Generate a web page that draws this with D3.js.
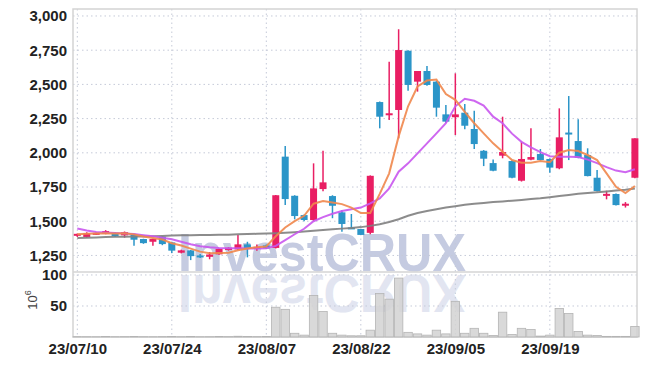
<!DOCTYPE html>
<html>
<head>
<meta charset="utf-8">
<script src="https://cdn.jsdelivr.net/npm/d3@7"></script>
<style>
  body { margin: 0; background: #fff; }
  text { font-family: "Liberation Sans Narrow", "Liberation Sans", sans-serif; }
</style>
</head>
<body>
<div id="chart"></div>
<script>
var dates = ["23/07/10","23/07/11","23/07/12","23/07/13","23/07/14","23/07/17","23/07/18","23/07/19","23/07/20","23/07/21",
  "23/07/24","23/07/25","23/07/26","23/07/27","23/07/28","23/07/31","23/08/01","23/08/02","23/08/03","23/08/04",
  "23/08/07","23/08/08","23/08/09","23/08/10","23/08/11","23/08/14","23/08/16","23/08/17","23/08/18","23/08/21",
  "23/08/22","23/08/23","23/08/24","23/08/25","23/08/28","23/08/29","23/08/30","23/08/31","23/09/01","23/09/04",
  "23/09/05","23/09/06","23/09/07","23/09/08","23/09/11","23/09/12","23/09/13","23/09/14","23/09/15","23/09/18",
  "23/09/19","23/09/20","23/09/21","23/09/22","23/09/25","23/09/26","23/09/27","23/10/04","23/10/05","23/10/06"];

var opens = [1395,1385,1405,1410,1415,1397,1402,1370,1350,1387,
  1345,1270,1287,1250,1240,1258,1290,1294,1331,1299,
  1323,1305,1972,1686,1545,1509,1735,1684,1565,1455,
  1443,1415,2371,2279,2313,2746,2520,2598,2520,2281,
  2260,2293,2174,2015,1925,1979,1940,1796,1950,1991,
  1955,1887,2148,2086,1984,1818,1690,1699,1621,1818];
var highs = [1410,1420,1418,1435,1420,1425,1405,1372,1372,1390,
  1350,1292,1290,1260,1275,1300,1310,1400,1350,1330,
  1330,1692,2050,1690,1550,1923,2015,1690,1580,1553,
  1445,1835,2375,2666,2903,2750,2598,2634,2525,2349,
  2581,2357,2308,2020,1952,2264,1945,2082,2179,2028,
  1958,2325,2415,2245,2033,1874,1723,1702,1640,2106];
var lows = [1385,1380,1402,1405,1385,1380,1320,1335,1320,1325,
  1267,1265,1216,1232,1222,1255,1285,1290,1236,1285,
  1298,1300,1618,1514,1500,1500,1720,1522,1423,1445,
  1400,1405,2179,2240,2106,2454,2447,2490,2264,2217,
  2130,2172,2028,1903,1865,1960,1815,1790,1945,1945,
  1855,1880,1947,1960,1828,1718,1660,1615,1600,1815];
var closes = [1408,1412,1415,1428,1390,1420,1365,1340,1370,1333,
  1285,1287,1245,1240,1257,1297,1306,1331,1302,1313,
  1302,1690,1662,1538,1509,1740,1784,1613,1480,1445,
  1400,1832,2264,2289,2751,2496,2598,2496,2330,2228,
  2281,2198,2064,1957,1869,2006,1818,1955,1969,1947,
  1892,2113,2140,1964,1830,1721,1700,1618,1628,2106];

// volume in millions
var volumes = [0.6,0.5,0.4,0.7,0.5,0.6,0.8,0.5,0.4,0.6,
  0.9,0.5,0.7,0.4,0.5,0.8,0.6,1.2,0.9,0.6,
  0.8,48,44.6,6,3,67,41,6,3,2,
  2,11,70,61,95,7.5,5,3,11,5,
  57.5,6,14,6,2.5,40,4,14,12,1.5,
  3,46,38,9,3,2.5,1,1,1,17];

var ma5 = [1405,1408,1410,1412,1411,1413,1404,1389,1377,1366,
  1339,1323,1300,1278,1266,1268,1270,1288,1300,1310,
  1315,1390,1454,1501,1540,1628,1647,1637,1625,1600,
  1560,1560,1700,1850,2120,2340,2485,2528,2535,2430,
  2387,2300,2216,2142,2069,2008,1947,1928,1928,1940,
  1932,2001,2020,2013,1984,1947,1850,1752,1706,1757];
var ma20 = [1447,1432,1422,1417,1414,1411,1406,1398,1390,1380,
  1368,1350,1332,1318,1310,1305,1303,1302,1301,1300,
  1302,1320,1362,1405,1445,1500,1530,1555,1575,1588,
  1600,1630,1667,1740,1862,1923,1996,2069,2142,2216,
  2340,2395,2380,2345,2264,2216,2140,2080,2040,2005,
  1975,1972,1972,1970,1950,1925,1895,1870,1858,1880];
var ma60 = [1378,1380,1382,1384,1386,1387,1388,1389,1390,1392,
  1395,1397,1398,1399,1400,1401,1402,1404,1406,1408,
  1410,1413,1416,1420,1425,1430,1436,1441,1446,1451,
  1457,1466,1478,1494,1515,1540,1560,1575,1588,1600,
  1610,1620,1627,1634,1640,1645,1650,1656,1662,1668,
  1676,1685,1692,1700,1706,1712,1718,1724,1730,1740];

var priceTicks = [1250,1500,1750,2000,2250,2500,2750,3000];
var volumeTicks = [50,100];
var tickDates = ["23/07/10","23/07/24","23/08/07","23/08/22","23/09/05","23/09/19"];

var width = 647;
var height = 366;
var left = 73, right = 637;
var priceTop = 9, priceBottom = 272, volBottom = 337;
var upColor = "#e91e63", downColor = "#2b95c8";
var gridColor = "#c5cad8";

var svg = d3.select("#chart").append("svg")
  .attr("width", width)
  .attr("height", height);

var x = d3.scalePoint()
  .domain(dates)
  .range([77.3, 634.9]);
var step = x.step();

var yPrice = d3.scaleLinear()
  .domain([1129, 3051])
  .range([priceBottom, priceTop]);

var yVol = d3.scaleLinear()
  .domain([0, 104.8])
  .range([volBottom, priceBottom]);

// watermark and its reflection
var wm = svg.append("g").attr("class", "watermark");
wm.append("text")
  .attr("x", 178).attr("y", 271)
  .attr("textLength", 288).attr("lengthAdjust", "spacingAndGlyphs")
  .style("font-family", "'Liberation Sans', Arial, sans-serif")
  .style("font-weight", "bold")
  .style("font-size", "54px")
  .style("fill", "#bcc3dc")
  .style("opacity", 0.85)
  .text("InvestCRUX");
wm.append("text")
  .attr("x", 178).attr("y", 271)
  .attr("transform", "translate(0,546) scale(1,-1)")
  .attr("textLength", 288).attr("lengthAdjust", "spacingAndGlyphs")
  .style("font-family", "'Liberation Sans', Arial, sans-serif")
  .style("font-weight", "bold")
  .style("font-size", "54px")
  .style("fill", "#d3d8ea")
  .style("opacity", 0.65)
  .text("InvestCRUX");

// grid
svg.append("g").selectAll("line")
  .data(priceTicks)
  .enter().append("line")
  .attr("x1", left).attr("x2", right)
  .attr("y1", function(d) { return yPrice(d); })
  .attr("y2", function(d) { return yPrice(d); })
  .attr("stroke", gridColor).attr("stroke-dasharray", "1.5,3");

svg.append("g").selectAll("line")
  .data(volumeTicks)
  .enter().append("line")
  .attr("x1", left).attr("x2", right)
  .attr("y1", function(d) { return yVol(d); })
  .attr("y2", function(d) { return yVol(d); })
  .attr("stroke", gridColor).attr("stroke-dasharray", "1.5,3");

svg.append("g").selectAll("line")
  .data(tickDates)
  .enter().append("line")
  .attr("x1", function(d) { return x(d); })
  .attr("x2", function(d) { return x(d); })
  .attr("y1", priceTop).attr("y2", volBottom)
  .attr("stroke", gridColor).attr("stroke-dasharray", "1.5,3");

// frame
svg.append("rect")
  .attr("x", left).attr("y", priceTop)
  .attr("width", right - left).attr("height", volBottom - priceTop)
  .attr("fill", "none").attr("stroke", "#d4d4d4").attr("stroke-width", 1.5);
svg.append("line")
  .attr("x1", left).attr("x2", right)
  .attr("y1", priceBottom).attr("y2", priceBottom)
  .attr("stroke", "#d4d4d4").attr("stroke-width", 1.5);

// volume bars
svg.append("g").selectAll("rect")
  .data(volumes)
  .enter().append("rect")
  .attr("x", function(d, i) { return x(dates[i]) - step / 2 + 0.5; })
  .attr("width", step - 1)
  .attr("y", function(d) { return yVol(d); })
  .attr("height", function(d) { return volBottom - yVol(d); })
  .attr("fill", "#d2d2d2").attr("fill-opacity", 0.85)
  .attr("stroke", "#b4b4b4").attr("stroke-width", 0.8);

// candles
var candles = svg.append("g").selectAll("g")
  .data(dates)
  .enter().append("g");

candles.append("line")
  .attr("x1", function(d) { return x(d); })
  .attr("x2", function(d) { return x(d); })
  .attr("y1", function(d, i) { return yPrice(highs[i]); })
  .attr("y2", function(d, i) { return yPrice(lows[i]); })
  .attr("stroke", function(d, i) { return closes[i] >= opens[i] ? upColor : downColor; })
  .attr("stroke-width", 1.5);

candles.append("rect")
  .attr("x", function(d) { return x(d) - 3.5; })
  .attr("width", 7)
  .attr("y", function(d, i) { return yPrice(Math.max(opens[i], closes[i])); })
  .attr("height", function(d, i) {
    return Math.max(2, Math.abs(yPrice(opens[i]) - yPrice(closes[i])));
  })
  .attr("fill", function(d, i) { return closes[i] >= opens[i] ? upColor : downColor; });

// moving averages
var line = d3.line()
  .x(function(d, i) { return x(dates[i]); })
  .y(function(d) { return yPrice(d); });

[[ma60, "#808080"], [ma20, "#c956ee"], [ma5, "#ef874d"]].forEach(function(s) {
  svg.append("path")
    .datum(s[0])
    .attr("d", line)
    .attr("fill", "none")
    .attr("stroke", s[1])
    .attr("stroke-width", 2)
    .attr("stroke-opacity", 0.9);
});

// axes
var yAxis = svg.append("g")
  .attr("transform", "translate(" + left + ",0)")
  .call(d3.axisLeft(yPrice).tickValues(priceTicks).tickFormat(d3.format(",")).tickSize(0).tickPadding(6));
var vAxis = svg.append("g")
  .attr("transform", "translate(" + left + ",0)")
  .call(d3.axisLeft(yVol).tickValues(volumeTicks).tickSize(0).tickPadding(6));
var xAxis = svg.append("g")
  .attr("transform", "translate(0," + volBottom + ")")
  .call(d3.axisBottom(x).tickValues(tickDates).tickSize(0).tickPadding(6));

[yAxis, vAxis, xAxis].forEach(function(a) {
  a.select(".domain").remove();
  a.selectAll("text")
    .style("font-family", "'Liberation Sans Narrow', 'Liberation Sans', sans-serif")
    .style("font-size", "15px")
    .style("font-weight", "bold")
    .style("fill", "#222");
});

var unit = svg.append("text")
  .attr("transform", "translate(37,300) rotate(-90)")
  .attr("text-anchor", "middle")
  .style("font-family", "'Liberation Sans', sans-serif")
  .style("font-size", "13px")
  .style("fill", "#444");
unit.append("tspan").text("10");
unit.append("tspan").attr("dy", "-6").style("font-size", "9px").text("6");
</script>
</body>
</html>
